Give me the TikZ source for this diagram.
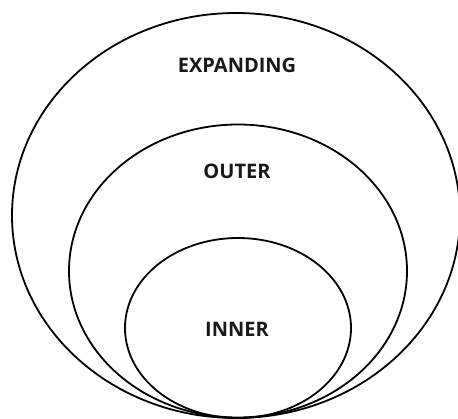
\documentclass[tikz,border=0pt]{standalone}
\usepackage{fontspec}
\setmainfont{Open Sans}
\usetikzlibrary{shapes.geometric}
\begin{document}
\begin{tikzpicture}[x=1pt,y=-1pt,
  ring/.style={draw=black, line width=1.8pt, ellipse, inner sep=0pt, outer sep=0pt},
  lbl/.style={font=\fontsize{20}{22}\selectfont\bfseries, text=black!90, inner sep=0pt}]
\useasboundingbox[fill=white] (0,0) rectangle (458,419);
\node[ring, minimum width=448pt, minimum height=405pt] (expanding) at (236,215.5) {};
\node[ring, minimum width=338pt, minimum height=293pt] (outer) at (238,271) {};
\node[ring, minimum width=226pt, minimum height=180pt] (inner) at (238,328) {};
\node[lbl] (texp) at (237,65) {EXPANDING};
\node[lbl] (tout) at (237,171) {OUTER};
\node[lbl] (tin) at (237,329) {INNER};
\end{tikzpicture}
\end{document}
